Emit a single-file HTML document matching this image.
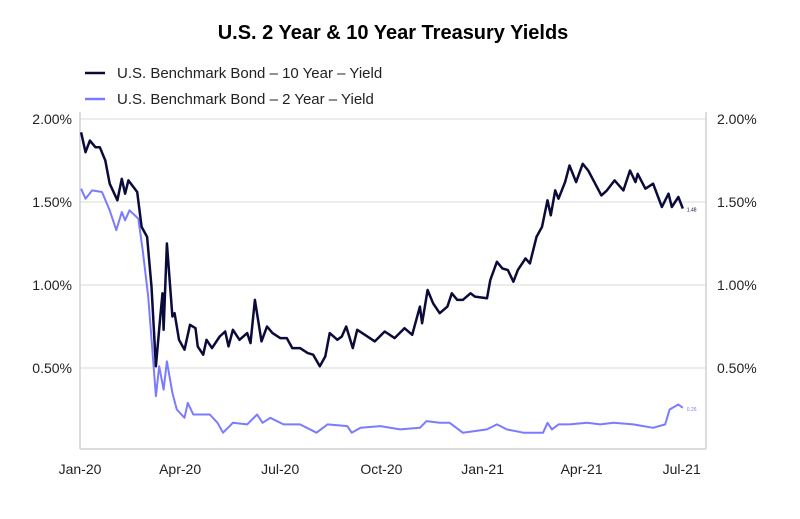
<!DOCTYPE html>
<html><head><meta charset="utf-8"><style>
body{margin:0;background:#fff;width:800px;height:514px;overflow:hidden;font-family:"Liberation Sans",Calibri,sans-serif}
text{font-family:"Liberation Sans",sans-serif}
</style></head><body>
<svg id="chart" width="800" height="514">
<text x="393" y="39" text-anchor="middle" font-size="20" font-weight="bold" fill="#000">U.S. 2 Year &amp; 10 Year Treasury Yields</text>
<g>
<g><line x1="85" y1="73" x2="105" y2="73" stroke="#0b0b3b" stroke-width="2.5"/><text x="117" y="78" font-size="15" fill="#222">U.S. Benchmark Bond – 10 Year – Yield</text></g>
<g><line x1="85" y1="99" x2="105" y2="99" stroke="#7b7bff" stroke-width="2.5"/><text x="117" y="104" font-size="15" fill="#222">U.S. Benchmark Bond – 2 Year – Yield</text></g>
</g>
<g id="grid"></g><g id="axes"></g><g id="series"></g>
</svg>
<script>
const ticksY=[0.5,1.0,1.5,2.0];
const tickYLabels=["0.50%","1.00%","1.50%","2.00%"];
const ticksXDays=[0,91,182,274,366,456,547];
const tickXLabels=["Jan-20","Apr-20","Jul-20","Oct-20","Jan-21","Apr-21","Jul-21"];
const days10=[1,5,9,14,18,23,27,34,38,41,44,52,56,61,65,69,73,75,76,79,84,86,90,95,100,105,107,112,115,120,127,132,135,139,145,152,155,159,165,170,175,182,188,193,200,207,212,218,223,227,234,238,242,248,252,259,268,277,286,295,302,309,311,316,321,327,334,338,343,348,355,359,370,373,379,384,389,394,398,405,409,415,420,425,428,432,435,441,445,451,457,462,466,474,479,486,494,500,505,507,514,521,529,535,538,544,548];
const yield10=[1.92,1.80,1.87,1.83,1.83,1.75,1.61,1.51,1.64,1.55,1.63,1.56,1.35,1.29,0.99,0.51,0.81,0.95,0.73,1.25,0.81,0.83,0.67,0.61,0.76,0.74,0.63,0.58,0.67,0.62,0.69,0.72,0.63,0.73,0.67,0.71,0.65,0.91,0.66,0.75,0.71,0.68,0.68,0.62,0.62,0.59,0.58,0.51,0.57,0.71,0.67,0.69,0.75,0.62,0.73,0.70,0.66,0.72,0.68,0.74,0.70,0.87,0.77,0.97,0.89,0.83,0.87,0.95,0.91,0.91,0.95,0.93,0.92,1.03,1.14,1.10,1.09,1.02,1.09,1.16,1.13,1.29,1.35,1.51,1.42,1.57,1.52,1.62,1.72,1.62,1.73,1.69,1.64,1.54,1.57,1.63,1.57,1.69,1.62,1.67,1.58,1.61,1.47,1.55,1.47,1.53,1.46];
const days2=[1,5,11,20,27,33,38,41,45,53,57,62,66,69,72,76,79,84,88,95,98,103,118,125,130,139,152,161,166,173,185,200,215,225,243,247,255,273,291,309,315,327,336,348,370,379,388,403,421,425,429,435,445,461,473,485,503,521,532,536,544,548];
const yield2=[1.58,1.52,1.57,1.56,1.45,1.33,1.44,1.39,1.45,1.40,1.21,0.93,0.59,0.33,0.51,0.37,0.54,0.35,0.25,0.20,0.29,0.22,0.22,0.17,0.11,0.17,0.16,0.22,0.17,0.20,0.16,0.16,0.11,0.16,0.15,0.11,0.14,0.15,0.13,0.14,0.18,0.17,0.17,0.11,0.13,0.16,0.13,0.11,0.11,0.17,0.13,0.16,0.16,0.17,0.16,0.17,0.16,0.14,0.16,0.25,0.28,0.26];
const lastLabels=["1.48","0.26"];
const NS="http://www.w3.org/2000/svg";
const X0=80,X1=706,Y0=451;
function xs(d){return X0+d*1.1;}
function ys(v){return Y0-v*166;}
function mk(tag,attrs,parent){const e=document.createElementNS(NS,tag);for(const k in attrs)e.setAttribute(k,attrs[k]);parent.appendChild(e);return e;}
const grid=document.getElementById('grid'),axes=document.getElementById('axes'),ser=document.getElementById('series');
ticksY.forEach((t,i)=>{
 const l=mk('line',{x1:X0,x2:X1,y1:ys(t),y2:ys(t),stroke:'#e6e6e6','stroke-width':1.5},grid);
 
 
 const a=mk('text',{x:72,y:ys(t)+5,'text-anchor':'end','font-size':14,fill:'#222'},axes);a.textContent=tickYLabels[i];
 
 
 const b=mk('text',{x:717,y:ys(t)+5,'font-size':14,fill:'#222'},axes);b.textContent=tickYLabels[i];
 
 
});
const la=mk('line',{x1:X0,x2:X0,y1:112,y2:Y0-2,stroke:'#d0d0d0','stroke-width':1.5},axes);


const ra=mk('line',{x1:X1,x2:X1,y1:112,y2:Y0-2,stroke:'#d0d0d0','stroke-width':1.5},axes);


const xa=mk('line',{x1:X0,x2:X1,y1:Y0-2,y2:Y0-2,stroke:'#d0d0d0','stroke-width':1.5},axes);


ticksXDays.forEach((d,i)=>{
 const t=mk('text',{x:Math.min(xs(d),695),y:474,'text-anchor':'middle','font-size':14,fill:'#222'},axes);t.textContent=tickXLabels[i];
 
 
});
function line(days,vals,color,name,lab,w){
 const p=mk('polyline',{points:days.map((d,i)=>xs(d).toFixed(1)+','+ys(vals[i]).toFixed(1)).join(' '),fill:'none',stroke:color,'stroke-width':w,'stroke-linejoin':'round'},ser);
 
 
 const d=days[days.length-1],v=vals[vals.length-1];
 const t=mk('text',{x:xs(d)+4,y:ys(v)+3,'font-size':5,fill:color},ser);t.textContent=lab;
 
 
}
line(days2,yield2,'#7b7bff','series-2-year',lastLabels[1],2);
line(days10,yield10,'#0b0b3b','series-10-year',lastLabels[0],2.5);
</script>
</body></html>
